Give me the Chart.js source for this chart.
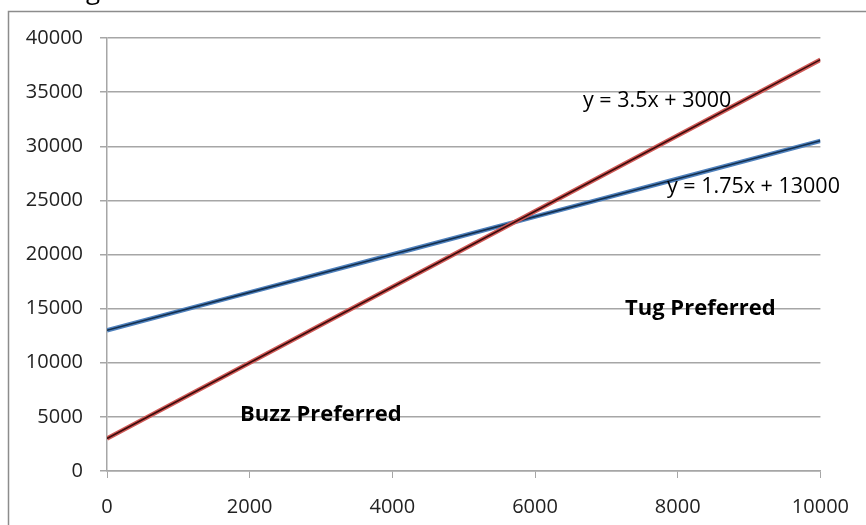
<!DOCTYPE html>
<html>
<head>
<meta charset="utf-8">
<script src="https://cdn.jsdelivr.net/npm/chart.js@4"></script>
<style>
  html, body { margin: 0; padding: 0; background: #fff; }
  #wrap { width: 866px; height: 525px; }
</style>
</head>
<body>
<div id="wrap"><canvas id="chart" width="866" height="525"></canvas></div>
<script>
// values
const xValues = [0, 2000, 4000, 6000, 8000, 10000];
const tugCost = [3000, 10000, 17000, 24000, 31000, 38000];      // y = 3.5x + 3000
const buzzCost = [13000, 16500, 20000, 23500, 27000, 30500];    // y = 1.75x + 13000
const yTicks = [0, 5000, 10000, 15000, 20000, 25000, 30000, 35000, 40000];
const xTicks = [0, 2000, 4000, 6000, 8000, 10000];

const FONT = '"Open Sans", "DejaVu Sans", sans-serif';

function pts(ys) {
    return xValues.map((x, i) => ({ x: x, y: ys[i] }));
}

// frame and the text boxes Excel put on the chart
const textPlugin = {
    id: 'textBoxes',
    beforeDraw(chart) {
        const ctx = chart.ctx;
        ctx.save();
        ctx.strokeStyle = '#8c8c8c';
        ctx.lineWidth = 1.5;
        ctx.beginPath();
        ctx.moveTo(8.5, 530);
        ctx.lineTo(8.5, 11.5);
        ctx.lineTo(870, 11.5);
        ctx.stroke();
        // bottom of the cut-off title
        ctx.fillStyle = '#000';
        ctx.font = '26px ' + FONT;
        ctx.textBaseline = 'alphabetic';
        ctx.fillText('g', 86, -1);
        ctx.restore();
    },
    afterDatasetsDraw(chart) {
        const ctx = chart.ctx;
        ctx.save();
        ctx.fillStyle = '#000';
        ctx.textBaseline = 'middle';
        ctx.font = '21.5px ' + FONT;
        ctx.fillText('y = 3.5x + 3000', 583, 101);
        ctx.fillText('y = 1.75x + 13000', 667, 187);
        ctx.font = 'bold 22px ' + FONT;
        ctx.fillText('Tug Preferred', 625, 309);
        ctx.fillText('Buzz Preferred', 240, 415);
        ctx.restore();
    }
};

// Chart.js paints dataset 0 last, so the dark cores come first and red sits over blue
new Chart(document.getElementById('chart'), {
    type: 'line',
    data: {
        datasets: [
            { data: pts(tugCost), borderColor: '#3d0c0c', borderWidth: 1.6, pointRadius: 0 },
            { data: pts(tugCost), borderColor: '#d05a57', borderWidth: 4.5, pointRadius: 0 },
            { data: pts(buzzCost), borderColor: '#14304f', borderWidth: 1.6, pointRadius: 0 },
            { data: pts(buzzCost), borderColor: '#4f81bd', borderWidth: 4.5, pointRadius: 0 }
        ]
    },
    options: {
        responsive: false,
        animation: false,
        layout: { padding: { left: 0, right: 44, top: 38, bottom: 0 } },
        plugins: { legend: { display: false }, tooltip: { enabled: false } },
        elements: { line: { tension: 0 } },
        scales: {
            x: {
                type: 'linear',
                min: 0,
                max: 10000,
                afterFit(scale) { scale.height = 54; },
                afterBuildTicks(scale) { scale.ticks = xTicks.map(v => ({ value: v })); },
                grid: { drawOnChartArea: false, drawTicks: true, tickLength: 7, color: '#a6a6a6' },
                border: { color: '#a6a6a6', width: 1.5 },
                ticks: {
                    color: '#222', font: { family: FONT, size: 20 }, padding: 17, maxRotation: 0,
                    callback: v => String(v)
                }
            },
            y: {
                min: 0,
                max: 40000,
                afterFit(scale) { scale.width = 107; },
                afterBuildTicks(scale) { scale.ticks = yTicks.map(v => ({ value: v })); },
                grid: { tickLength: 7, color: '#a6a6a6', lineWidth: 1.5 },
                border: { color: '#a6a6a6', width: 1.5 },
                ticks: {
                    color: '#222', font: { family: FONT, size: 20 }, padding: 17,
                    callback: v => String(v)
                }
            }
        }
    },
    plugins: [textPlugin]
});
</script>
</body>
</html>
